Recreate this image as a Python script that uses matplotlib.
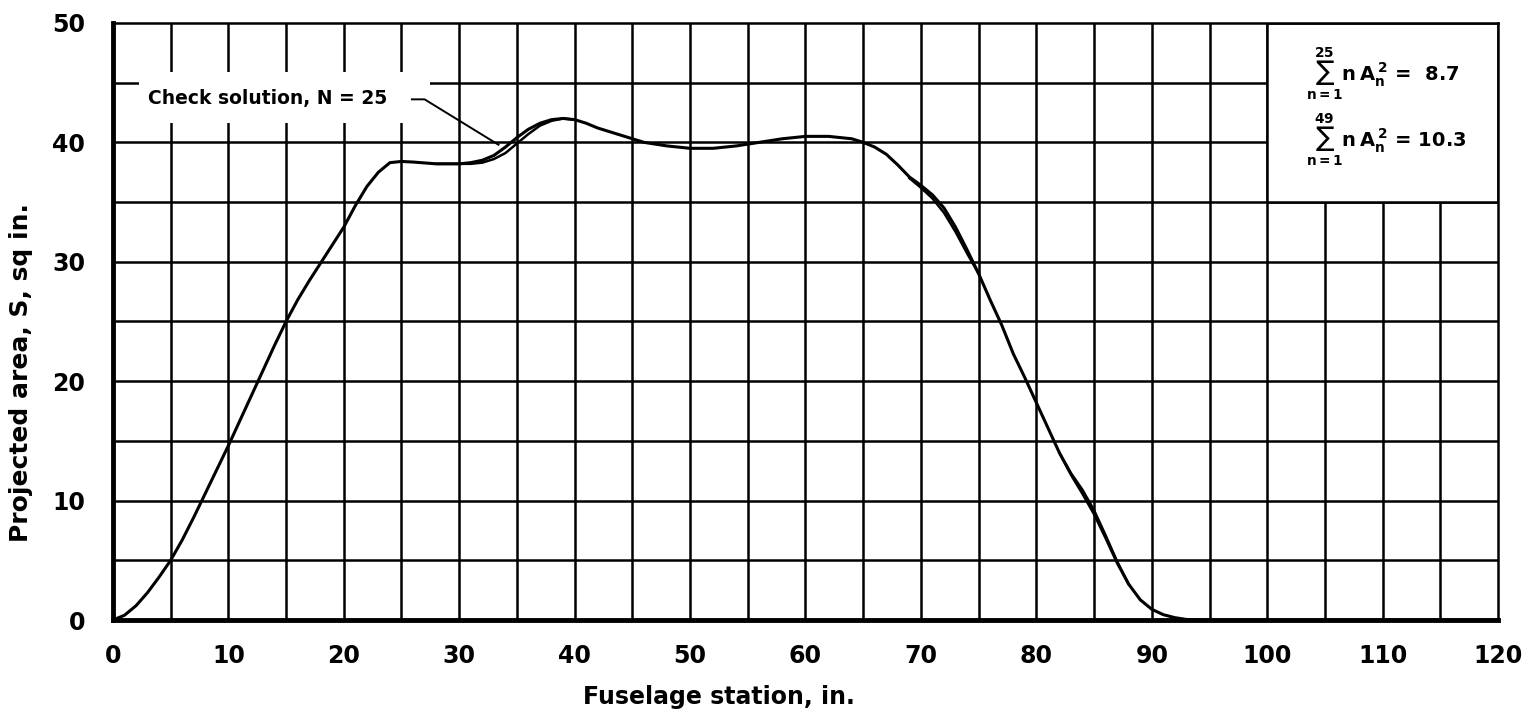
import matplotlib
matplotlib.use("Agg")
import matplotlib.pyplot as plt
from matplotlib.patches import Rectangle

# fuselage station (in.) and projected area (sq in.)
station = [0, 1, 2, 3, 4, 5, 6, 7, 8, 9, 10, 11, 12, 13, 14, 15, 16, 17, 18, 19,
           20, 21, 22, 23, 24, 25, 26, 28, 30, 31, 32, 33, 34, 35, 36, 37, 38, 39,
           40, 41, 42, 44, 46, 48, 50, 52, 54, 56, 58, 60, 62, 64, 65, 66, 67, 68,
           69, 70, 71, 72, 73, 74, 75, 76, 77, 78, 79, 80, 81, 82, 83, 84, 85, 86,
           87, 88, 89, 90, 91, 92, 93, 95, 120]
area = [0, 0.4, 1.2, 2.3, 3.6, 5.0, 6.7, 8.6, 10.6, 12.6, 14.6, 16.7, 18.8, 20.9,
        23.0, 25.0, 26.8, 28.4, 29.9, 31.4, 32.9, 34.7, 36.3, 37.5, 38.3, 38.4,
        38.35, 38.2, 38.2, 38.3, 38.5, 38.9, 39.6, 40.4, 41.1, 41.6, 41.9, 42.0,
        41.9, 41.6, 41.2, 40.6, 40.0, 39.7, 39.5, 39.5, 39.7, 40.0, 40.3, 40.5,
        40.5, 40.3, 40.0, 39.6, 39.0, 38.1, 37.1, 36.4, 35.6, 34.5, 32.9, 31.0,
        29.0, 26.8, 24.7, 22.3, 20.3, 18.2, 16.1, 14.0, 12.2, 10.6, 8.9, 6.9,
        4.8, 3.0, 1.7, 0.9, 0.45, 0.2, 0.05, 0, 0]

# check solution, N = 25 (only where it parts from the curve above)
check_station_a = [28, 30, 31, 32, 33, 34, 35, 36, 37, 38, 39, 40]
check_area_a = [38.2, 38.2, 38.2, 38.3, 38.6, 39.1, 39.9, 40.7, 41.4, 41.8, 42.0, 41.9]
check_station_b = [69, 70, 71, 72, 73, 74, 75]
check_area_b = [37.0, 36.2, 35.3, 34.1, 32.5, 30.7, 29.0]
check_station_c = [82, 83, 84, 85, 86, 87, 88]
check_area_c = [14.0, 12.3, 10.9, 9.2, 7.1, 4.9, 3.0]

x_ticks = [0, 10, 20, 30, 40, 50, 60, 70, 80, 90, 100, 110, 120]
y_ticks = [0, 10, 20, 30, 40, 50]

plt.rcParams['mathtext.fontset'] = 'dejavusans'
fig = plt.figure(figsize=(15.26, 7.16), dpi=100)
ax = fig.add_axes([0.074, 0.134, 0.9077, 0.834])

ax.set_xlim(0, 120)
ax.set_ylim(0, 50)

# 5-unit grid
for gx in range(5, 120, 5):
    ax.axvline(gx, color='black', lw=1.8, zorder=1)
for gy in range(5, 50, 5):
    ax.axhline(gy, color='black', lw=1.8, zorder=1)

ax.plot(station, area, color='black', lw=2.2, zorder=4)
ax.plot(check_station_a, check_area_a, color='black', lw=1.8, zorder=4)
ax.plot(check_station_b, check_area_b, color='black', lw=1.8, zorder=4)
ax.plot(check_station_c, check_area_c, color='black', lw=1.8, zorder=4)

# blank panel for the sums
ax.add_patch(Rectangle((100, 35), 20, 15, facecolor='white', edgecolor='black',
                       lw=1.8, zorder=2))
sum25 = r"$\sum_{\mathbf{n=1}}^{\mathbf{25}}\mathbf{n\,A}_{\mathbf{n}}^{\;\mathbf{2}}$ =  8.7"
sum49 = r"$\sum_{\mathbf{n=1}}^{\mathbf{49}}\mathbf{n\,A}_{\mathbf{n}}^{\;\mathbf{2}}$ = 10.3"
ax.text(103.4, 45.7, sum25, fontsize=14, fontweight='bold', va='center', zorder=5)
ax.text(103.4, 40.2, sum49, fontsize=14, fontweight='bold', va='center', zorder=5)

# label for the check solution, on a white patch that breaks the grid
ax.add_patch(Rectangle((2.3, 41.6), 25.2, 4.3, facecolor='white', edgecolor='none',
                       zorder=2))
ax.text(3.0, 43.7, "Check solution, N = 25", fontsize=13.5, fontweight='bold',
        va='center', zorder=5)
ax.plot([25.9, 27.0, 33.4], [43.6, 43.6, 39.8], color='black', lw=1.4, zorder=5)

for side in ['left', 'bottom']:
    ax.spines[side].set_linewidth(3.5)
for side in ['top', 'right']:
    ax.spines[side].set_linewidth(1.8)
for s in ax.spines.values():
    s.set_zorder(6)

ax.set_xticks(x_ticks)
ax.set_yticks(y_ticks)
ax.tick_params(axis='x', length=0, labelsize=17, pad=17)
ax.tick_params(axis='y', length=0, labelsize=17, pad=20)
for lab in ax.get_xticklabels() + ax.get_yticklabels():
    lab.set_fontweight('bold')

ax.set_xlabel("Fuselage station, in.", fontsize=17, fontweight='bold')
ax.set_ylabel("Projected area, S, sq in.", fontsize=18, fontweight='bold')
ax.xaxis.set_label_coords(0.4375, -0.108)
ax.yaxis.set_label_coords(-0.058, 0.415)

plt.savefig("out.png", dpi=100)
